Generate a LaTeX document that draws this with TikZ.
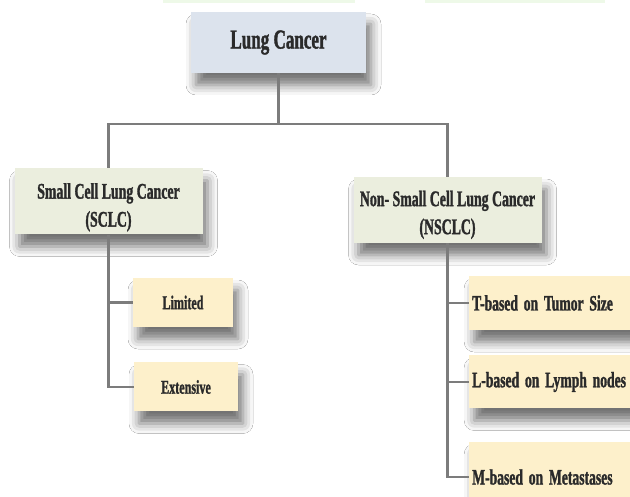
\documentclass[tikz,border=0pt]{standalone}
\usepackage{fontspec}
\setmainfont{Liberation Serif}[FakeStretch=0.62, BoldFeatures={FakeBold=1.3}]
\newfontfamily\stagefont{Liberation Serif}[FakeStretch=0.62, WordSpace=1.7, BoldFeatures={FakeBold=1.3}]
\usetikzlibrary{shadows.blur}
\definecolor{lcfill}{HTML}{DCE3ED}
\definecolor{midfill}{HTML}{EBEEDE}
\definecolor{subfill}{HTML}{FDF0CB}
\definecolor{linegray}{HTML}{7C7C7C}
\definecolor{txt}{HTML}{2A2A2A}
\definecolor{stripgreen}{HTML}{EEF9E8}
\tikzset{
  boxbase/.style={rectangle, inner sep=0pt, text=txt, font=\bfseries,
    blur shadow={shadow xshift=5pt, shadow yshift=-12pt, shadow blur radius=10pt, shadow opacity=55}},
  lcbox/.style={boxbase, fill=lcfill, minimum width=175pt, minimum height=61pt,
    font=\bfseries\fontsize{27.5}{30}\selectfont},
  midbox/.style={boxbase, fill=midfill, minimum width=188pt, minimum height=66pt, align=center,
    font=\bfseries\fontsize{22.3}{28}\selectfont},
  smallbox/.style={boxbase, fill=subfill, minimum height=49pt,
    font=\bfseries\fontsize{19.5}{22}\selectfont},
  stagebox/.style={boxbase, fill=subfill, anchor=west, inner xsep=3pt,
    font=\stagefont\bfseries\fontsize{22}{24}\selectfont},
  strip/.style={rectangle, inner sep=0pt, fill=stripgreen, minimum height=3pt},
  conn/.style={draw=linegray, line width=2.2pt}
}
\newcommand{\stagetext}[1]{\makebox[174pt][l]{#1}}
\begin{document}
\begin{tikzpicture}[x=1pt,y=-1pt]
\useasboundingbox (0,0) rectangle (630,497);
\fill[white] (0,0) rectangle (630,497);
% faint strips at the top edge
\node[strip, minimum width=192pt] (g1) at (259,1.5) {};
\node[strip, minimum width=180pt] (g2) at (515,1.5) {};
\node[lcbox] (LC) at (278.5,42.5) {Lung Cancer};
\node[midbox] (SCLC) at (108.5,201.5) {\rule{0pt}{27pt}Small Cell Lung Cancer\\(SCLC)};
\node[midbox] (NSCLC) at (447.5,210) {\rule{0pt}{25pt}Non- Small Cell Lung Cancer\\(NSCLC)};
\node[smallbox, minimum width=100pt] (LIM) at (183,302.5) {Limited};
\node[smallbox, minimum width=104pt] (EXT) at (186,387) {Extensive};
\node[stagebox, minimum height=54pt] (T) at (469,303) {\stagetext{T-based on Tumor Size}};
\node[stagebox, minimum height=53pt] (L) at (469,382) {\stagetext{L-based on Lymph nodes}};
\node[stagebox, minimum height=70pt] (M) at (469,477) {\stagetext{M-based on Metastases}};
\draw[conn] (LC.south) -- ++(0,51) coordinate (bus);
\draw[conn] (bus) -| (SCLC.north);
\draw[conn] (bus) -| (NSCLC.north);
\draw[conn] (SCLC.south) |- (LIM.west);
\draw[conn] (SCLC.south) |- (EXT.west);
\draw[conn] (NSCLC.south) |- (T.west);
\draw[conn] (NSCLC.south) |- (L.west);
\draw[conn] (NSCLC.south) |- (M.west);
\end{tikzpicture}
\end{document}
